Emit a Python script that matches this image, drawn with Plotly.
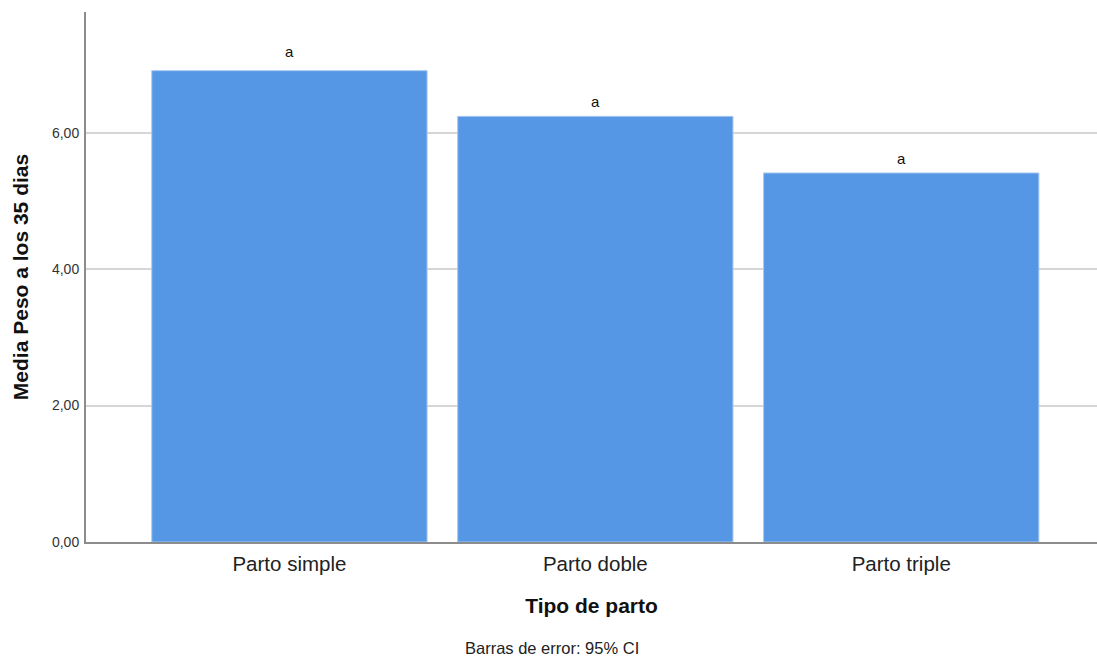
import plotly.graph_objects as go

categories = ["Parto simple", "Parto doble", "Parto triple"]
means = [6.91, 6.24, 5.41]
letters = ["a", "a", "a"]
y_ticks = [0, 2, 4, 6]
y_tick_labels = ["0,00", "2,00", "4,00", "6,00"]

FONT = "Liberation Sans, Arial, sans-serif"
BAR_COLOR = "#5596E5"
LETTER_GAP = [9, 4, 4]  # pixel gap between bar top and its letter

fig = go.Figure()
fig.add_trace(go.Bar(
    x=list(range(len(categories))),
    y=means,
    width=0.9,
    marker=dict(color=BAR_COLOR, line=dict(color="#A9C8F0", width=1)),
    hoverinfo="skip",
))

# significance letters above each bar
for i, (m, s) in enumerate(zip(means, letters)):
    fig.add_annotation(x=i, y=m, text=s, showarrow=False, yanchor="bottom",
                       yshift=LETTER_GAP[i], font=dict(family=FONT, size=15, color="#111"))

fig.add_annotation(text="Barras de error: 95% CI", xref="paper", yref="paper",
                   x=(552 - 86) / (1097 - 86), y=-(648 - 542) / 530,
                   xanchor="center", yanchor="middle", showarrow=False,
                   font=dict(family=FONT, size=16.5, color="#222"))

fig.update_layout(
    width=1097, height=657,
    margin=dict(l=86, r=0, t=12, b=115),
    paper_bgcolor="white", plot_bgcolor="white",
    showlegend=False,
    bargap=0.1,
    font=dict(family=FONT),
)
fig.update_xaxes(
    range=[-0.665, 2.64],
    tickmode="array", tickvals=list(range(len(categories))), ticktext=categories,
    tickfont=dict(family=FONT, size=20.5, color="#222"),
    ticklabelstandoff=2,
    showline=True, linecolor="#8c8c8c", linewidth=2,
    showgrid=False, ticks="", zeroline=False,
    title=dict(text="<b>Tipo de parto</b>", font=dict(family=FONT, size=21, color="#111"), standoff=25),
)
fig.update_yaxes(
    range=[0, 7.77],
    tickmode="array", tickvals=y_ticks, ticktext=y_tick_labels,
    tickfont=dict(family=FONT, size=14, color="#333"),
    ticklabelstandoff=2,
    showline=True, linecolor="#8c8c8c", linewidth=2,
    showgrid=True, gridcolor="#d6d6d6", gridwidth=2,
    zeroline=False, ticks="", ticklen=0,
    title=dict(text="<b>Media Peso a los 35 dias</b>", font=dict(family=FONT, size=21, color="#111"), standoff=18),
)

fig.write_html("out.html")
